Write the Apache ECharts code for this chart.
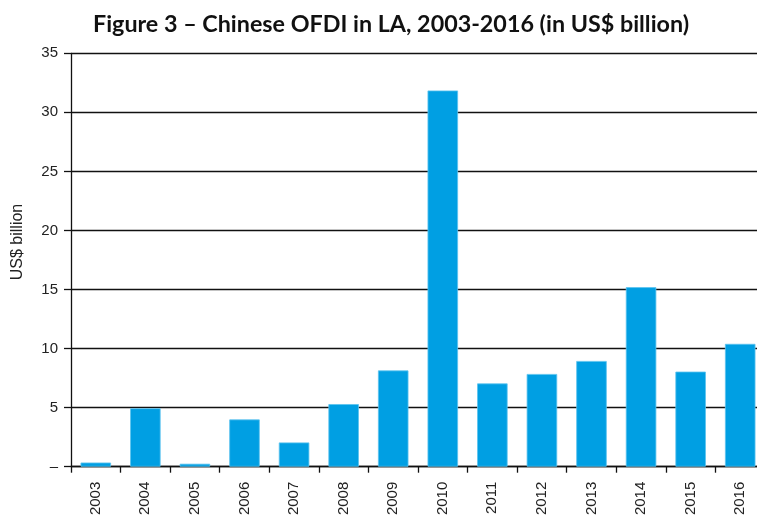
<!DOCTYPE html>
<html><head><meta charset="utf-8">
<script src="https://cdn.jsdelivr.net/npm/echarts@6/dist/echarts.min.js"></script>
<style>html,body{margin:0;padding:0;background:#fff}#c{width:757px;height:519px}</style>
</head><body><div id="c"></div>
<script>
var titleText = 'Figure 3 – Chinese OFDI in LA, 2003-2016 (in US$ billion)';
var yAxisTitle = 'US$ billion';
var years = ['2003','2004','2005','2006','2007','2008','2009','2010','2011','2012','2013','2014','2015','2016'];
var ofdi = [0.35, 4.95, 0.25, 4.0, 2.05, 5.3, 8.15, 31.85, 7.05, 7.85, 8.95, 15.2, 8.05, 10.4];
var yTickLabels = ['–','5','10','15','20','25','30','35'];

var chart = echarts.init(document.getElementById('c'), null, {renderer:'canvas'});
chart.setOption({
  animation: false,
  backgroundColor: '#fff',
  title: {
    text: titleText, left: 88, top: 8,
    textStyle: {fontFamily: 'Lato', fontWeight: 'bold', fontSize: 23.3, color: '#111'}
  },
  graphic: [{
    type: 'text', x: 18, y: 242, rotation: Math.PI/2,
    style: {text: yAxisTitle, font: '16px "Liberation Sans"', fill: '#222', align: 'center', verticalAlign: 'middle'}
  }],
  grid: {left: 71, top: 53.3, width: 694, height: 413.4, containLabel: false, outerBoundsMode: 'none'},
  xAxis: {
    type: 'category', data: years,
    axisLine: {show: true, lineStyle: {color: '#111', width: 1.3}},
    axisTick: {show: true, length: 6, lineStyle: {color: '#111', width: 1.3}},
    axisLabel: {rotate: 90, margin: 15, fontSize: 15, color: '#222', fontFamily: 'Liberation Sans'},
    splitLine: {show: false}
  },
  yAxis: {
    type: 'value', min: 0, max: 35, interval: 5,
    axisLine: {show: true, lineStyle: {color: '#111', width: 1.3}},
    axisTick: {show: true, length: 7, lineStyle: {color: '#111', width: 1.3}},
    axisLabel: {margin: 13, fontSize: 15, color: '#222', fontFamily: 'Liberation Sans',
      formatter: function(v){ return yTickLabels[Math.round(v/5)]; }},
    splitLine: {show: true, lineStyle: {color: '#111', width: 1.3}}
  },
  series: [{
    type: 'bar', data: ofdi, barWidth: '61.5%',
    itemStyle: {color: '#009fe3', borderColor: '#5cc3ef', borderWidth: 0.8}
  }]
});
</script></body></html>
